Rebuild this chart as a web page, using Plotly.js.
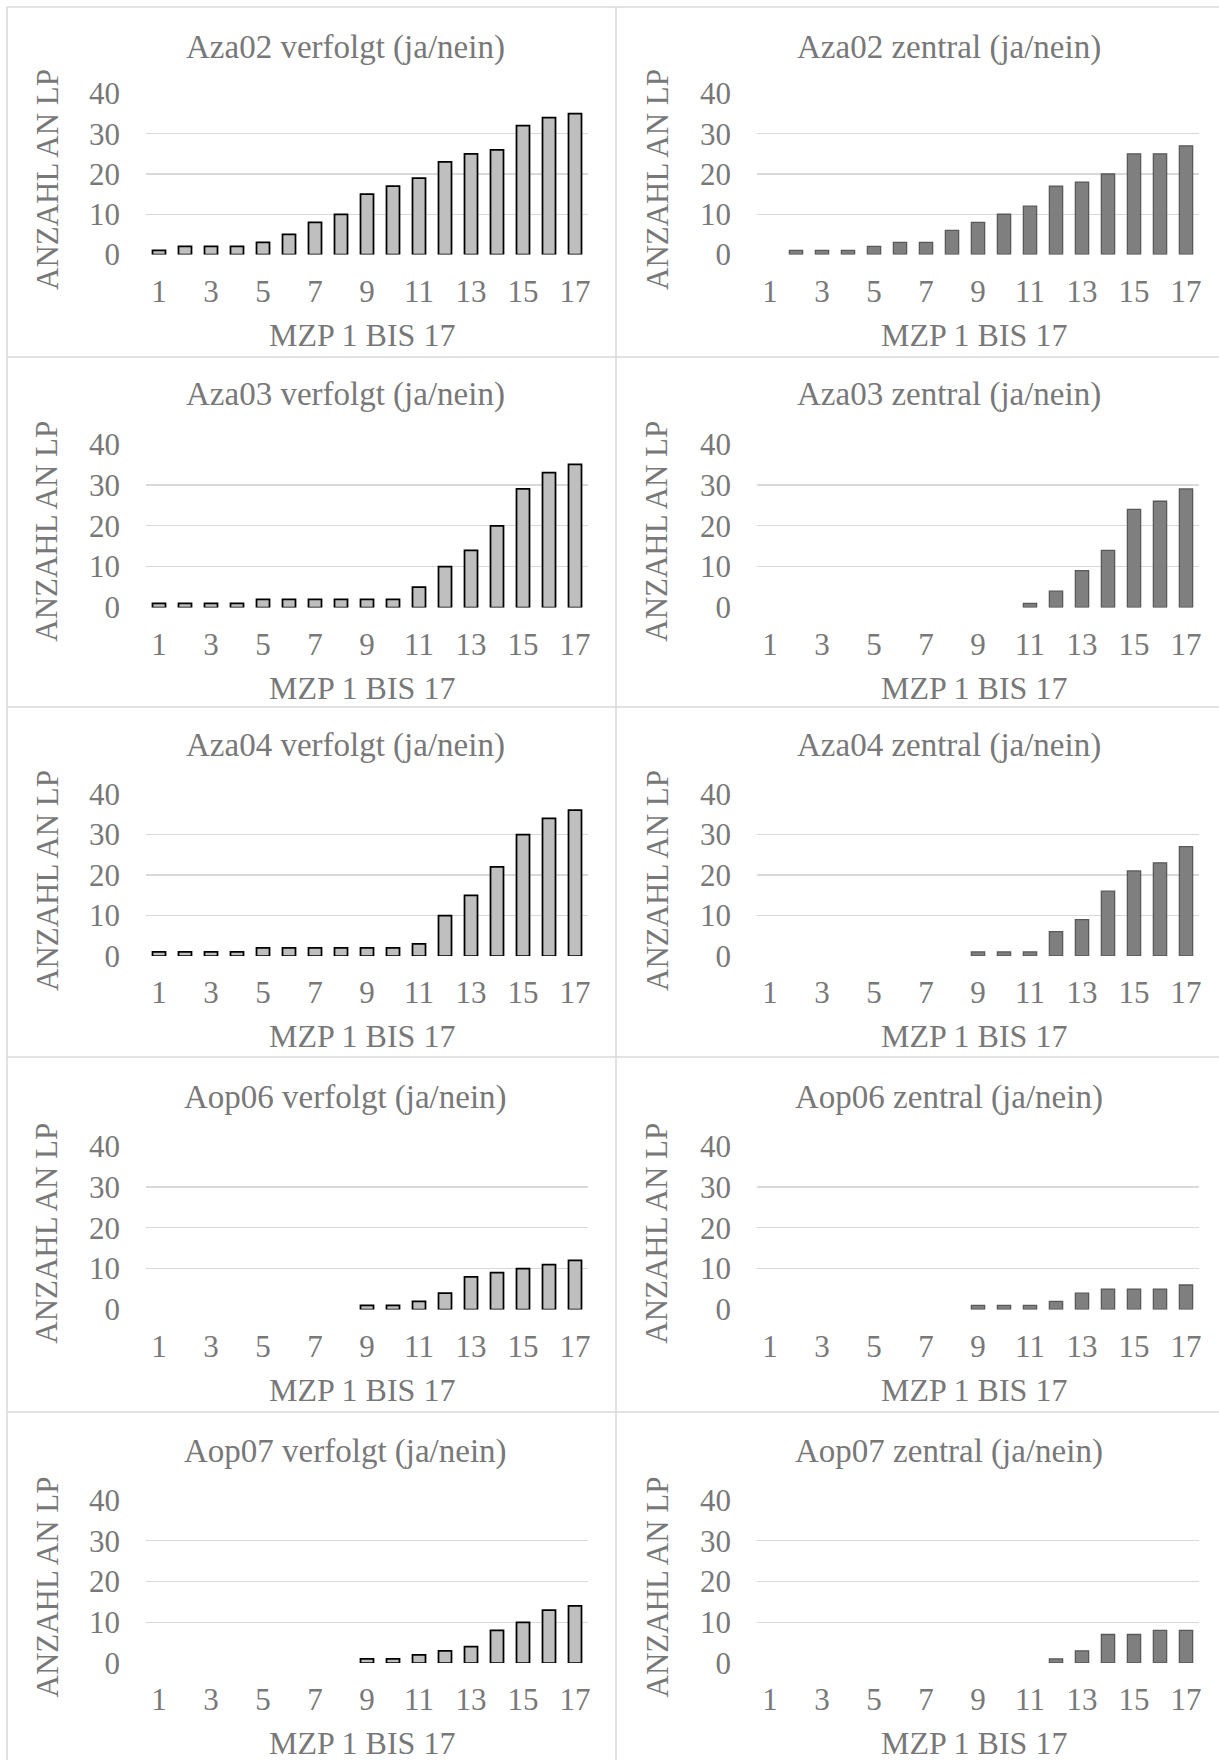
<!DOCTYPE html>
<html><head><meta charset="utf-8">
<script src="https://cdn.plot.ly/plotly-3.0.1.min.js"></script>
<style>html,body{margin:0;padding:0;background:#fff}#chart{width:1219px;height:1760px}</style>
</head><body><div id="chart"></div>
<script>
// ---- data ----
const mzp = [1,2,3,4,5,6,7,8,9,10,11,12,13,14,15,16,17];
const xTickVals = [1,3,5,7,9,11,13,15,17];
const xTickText = ['1','3','5','7','9','11','13','15','17'];
const yTickVals = [0,10,20,30,40];
const yTickText = ['0','10','20','30','40'];
const itemNames = ['Aza02','Aza03','Aza04','Aop06','Aop07'];
const xAxisTitle = 'MZP 1 BIS 17';
const yAxisTitle = 'ANZAHL AN LP';

const aza02Verfolgt = [1,2,2,2,3,5,8,10,15,17,19,23,25,26,32,34,35];
const aza02Zentral  = [0,1,1,1,2,3,3,6,8,10,12,17,18,20,25,25,27];
const aza03Verfolgt = [1,1,1,1,2,2,2,2,2,2,5,10,14,20,29,33,35];
const aza03Zentral  = [0,0,0,0,0,0,0,0,0,0,1,4,9,14,24,26,29];
const aza04Verfolgt = [1,1,1,1,2,2,2,2,2,2,3,10,15,22,30,34,36];
const aza04Zentral  = [0,0,0,0,0,0,0,0,1,1,1,6,9,16,21,23,27];
const aop06Verfolgt = [0,0,0,0,0,0,0,0,1,1,2,4,8,9,10,11,12];
const aop06Zentral  = [0,0,0,0,0,0,0,0,1,1,1,2,4,5,5,5,6];
const aop07Verfolgt = [0,0,0,0,0,0,0,0,1,1,2,3,4,8,10,13,14];
const aop07Zentral  = [0,0,0,0,0,0,0,0,0,0,0,1,3,7,7,8,8];

const verfolgtSeries = [aza02Verfolgt, aza03Verfolgt, aza04Verfolgt, aop06Verfolgt, aop07Verfolgt];
const zentralSeries  = [aza02Zentral, aza03Zentral, aza04Zentral, aop06Zentral, aop07Zentral];

// ---- geometry (pixels) ----
const W = 1219, H = 1760;
const colPlot = [[146, 588], [757, 1199]];
const rowPlot = [[93.5, 254.5], [444, 607.5], [794, 956], [1146, 1309.5], [1500, 1663]];
const titleY = [47.5, 395, 745, 1097, 1451];
const titleX = [345, 949];
const yTitleX = [47, 657];
const xTitleX = [362, 974];
const textColor = '#787878';
const fontFam = 'Liberation Serif';

const px = x => x / W;
const py = y => 1 - y / H;

const data = [];
const layout = {
  width: W, height: H,
  margin: {l: 0, r: 0, t: 0, b: 0},
  paper_bgcolor: '#ffffff', plot_bgcolor: 'rgba(0,0,0,0)',
  showlegend: false,
  font: {family: fontFam, size: 31, color: textColor},
  annotations: [],
  shapes: [],
  bargap: 0.5
};

let idx = 0;
for (let r = 0; r < 5; r++) {
  for (let c = 0; c < 2; c++) {
    idx++;
    const xa = 'xaxis' + (idx === 1 ? '' : idx);
    const ya = 'yaxis' + (idx === 1 ? '' : idx);
    const xr = 'x' + (idx === 1 ? '' : idx);
    const yr = 'y' + (idx === 1 ? '' : idx);
    const isV = c === 0;
    const series = isV ? verfolgtSeries[r] : zentralSeries[r];
    data.push({
      type: 'bar',
      x: mzp,
      // zero counts are not drawn as bars (as in the original)
      y: series.map(v => v === 0 ? null : v),
      xaxis: xr, yaxis: yr,
      width: isV ? 0.5 : 0.51,
      marker: {
        color: isV ? '#bfbfbf' : '#7f7f7f',
        line: {color: isV ? '#000000' : '#595959', width: isV ? 1.75 : 1.3}
      },
      hoverinfo: 'x+y'
    });
    const [t, b] = rowPlot[r];
    const [l, rr] = colPlot[c];
    layout[xa] = {
      domain: [px(l), px(rr)],
      anchor: yr,
      range: [0.5, 17.5],
      tickmode: 'array', tickvals: xTickVals, ticktext: xTickText,
      showgrid: false, zeroline: false, showline: false, ticks: '',
      ticklabelstandoff: 15,
      tickfont: {family: fontFam, size: 31, color: textColor},
      fixedrange: true
    };
    layout[ya] = {
      domain: [py(b), py(t)],
      anchor: xr,
      range: [0, 40],
      tickmode: 'array', tickvals: yTickVals, ticktext: yTickText,
      showgrid: true, gridcolor: '#d9d9d9', gridwidth: 1.4,
      zeroline: false, showline: false, ticks: '',
      ticklabelstandoff: 25,
      tickfont: {family: fontFam, size: 31, color: textColor},
      fixedrange: true
    };
    const title = itemNames[r] + (isV ? ' verfolgt (ja/nein)' : ' zentral (ja/nein)');
    layout.annotations.push({
      text: title, xref: 'paper', yref: 'paper',
      x: px(titleX[c]), y: py(titleY[r]), xanchor: 'center', yanchor: 'middle',
      showarrow: false, font: {family: fontFam, size: 33, color: textColor}
    });
    layout.annotations.push({
      text: yAxisTitle, xref: 'paper', yref: 'paper', textangle: -90,
      x: px(yTitleX[c]), y: py((t + b) / 2 + 6), xanchor: 'center', yanchor: 'middle',
      showarrow: false, font: {family: fontFam, size: 31, color: textColor}
    });
    layout.annotations.push({
      text: xAxisTitle, xref: 'paper', yref: 'paper',
      x: px(xTitleX[c]), y: py(b + 80), xanchor: 'center', yanchor: 'middle',
      showarrow: false, font: {family: fontFam, size: 32, color: textColor}
    });
  }
}

// cell borders
const borderStyle = {color: '#d9d9d9', width: 1.5};
const hLines = [7, 357, 707, 1057, 1412];
hLines.forEach(y => layout.shapes.push({type: 'line', xref: 'paper', yref: 'paper',
  x0: px(7), x1: 1, y0: py(y), y1: py(y), line: borderStyle}));
[7, 616].forEach(x => layout.shapes.push({type: 'line', xref: 'paper', yref: 'paper',
  x0: px(x), x1: px(x), y0: py(7), y1: 0, line: borderStyle}));

Plotly.newPlot('chart', data, layout, {staticPlot: true, displayModeBar: false});
</script>
</body></html>
